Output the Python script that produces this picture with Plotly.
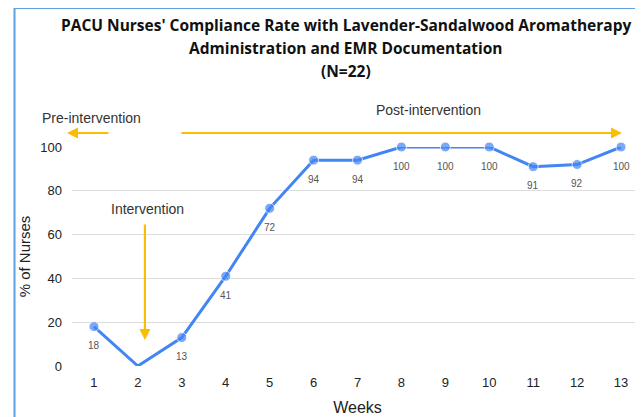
import plotly.graph_objects as go

weeks = [1, 2, 3, 4, 5, 6, 7, 8, 9, 10, 11, 12, 13]
compliance = [18, 0, 13, 41, 72, 94, 94, 100, 100, 100, 91, 92, 100]
y_ticks = [0, 20, 40, 60, 80, 100]

title_lines = ["PACU Nurses' Compliance Rate with Lavender-Sandalwood Aromatherapy",
               "Administration and EMR Documentation", "(N=22)"]

sizes = [10 if v > 0 else 0 for v in compliance]

BLUE = "#4285F4"
YEL = "#FBBC04"
FONT = "Liberation Sans, Arial, sans-serif"
TFONT = "Open Sans, Liberation Sans, sans-serif"

fig = go.Figure()
fig.add_trace(go.Scatter(
    x=weeks, y=compliance, mode="lines+markers",
    line=dict(color=BLUE, width=3),
    marker=dict(color=BLUE, size=sizes),
    cliponaxis=False, hoverinfo="x+y",
))

# data labels below the points
for w, v in zip(weeks, compliance):
    if v > 0:
        fig.add_annotation(x=w, y=v, xref="x", yref="y", text=str(v), showarrow=False,
                           yshift=-19, font=dict(size=10, color="#555555", family=FONT))

fig.update_layout(
    width=635, height=409,
    margin=dict(l=64, r=0, t=139, b=51),
    paper_bgcolor="white", plot_bgcolor="white",
    showlegend=False,
    font=dict(family=FONT, color="#222222"),
    xaxis=dict(range=[0.5, 13.5], tickvals=weeks, showgrid=False, zeroline=False,
               showline=False, ticks="", ticklabelstandoff=7,
               tickfont=dict(size=13, color="#222222"),
               title=dict(text="Weeks", font=dict(size=16, color="#222222"), standoff=12)),
    yaxis=dict(range=[0, 100], tickvals=y_ticks, showgrid=True, gridcolor="#dddddd",
               gridwidth=1, zeroline=False, showline=False, ticks="", ticklabelstandoff=9,
               tickfont=dict(size=13, color="#222222"),
               title=dict(text="% of Nurses", font=dict(size=15, color="#222222"), standoff=6)),
)

def px(xr):
    return (xr - 72) / 571

def py(yr):
    return (366 - yr) / 219

# title, one annotation per line
for line, yc in zip(title_lines, [25, 48, 71]):
    fig.add_annotation(xref="paper", yref="paper", x=px(346), y=py(yc),
                       xanchor="center", yanchor="middle", showarrow=False,
                       text="<b>" + line + "</b>",
                       font=dict(size=15.5, color="#111111", family=TFONT))

# pre / post intervention arrows (paper-referenced, pixel tails)
fig.add_annotation(xref="paper", yref="paper", x=px(67), y=py(133), ax=43, ay=0,
                   axref="pixel", ayref="pixel", showarrow=True, arrowhead=2, arrowsize=1,
                   arrowwidth=2.2, arrowcolor=YEL, text="", xanchor="center")
fig.add_annotation(xref="paper", yref="paper", x=px(622), y=py(133), ax=-442, ay=0,
                   axref="pixel", ayref="pixel", showarrow=True, arrowhead=2, arrowsize=1,
                   arrowwidth=2.2, arrowcolor=YEL, text="", xanchor="center")
# intervention arrow
fig.add_annotation(x=2.16, y=11.9, ax=2.16, ay=65.3, xref="x", yref="y", axref="x", ayref="y",
                   showarrow=True, arrowhead=2, arrowsize=1, arrowwidth=2.2,
                   arrowcolor=YEL, text="")

for txt, xc, yc in [("Pre-intervention", 91, 118), ("Post-intervention", 428, 110),
                    ("Intervention", 147, 209)]:
    fig.add_annotation(x=px(xc), y=py(yc), xref="paper", yref="paper", showarrow=False,
                       xanchor="center", yanchor="middle", text=txt,
                       font=dict(size=14, color="#333333", family=FONT))

# frame border (left and top)
bx = px(14.5)
by = py(8)
fig.add_shape(type="line", xref="paper", yref="paper", x0=bx, x1=bx, y0=by, y1=py(430),
              line=dict(color="#5BA3E0", width=2))
fig.add_shape(type="line", xref="paper", yref="paper", x0=bx, x1=px(660), y0=by, y1=by,
              line=dict(color="#5BA3E0", width=2))

fig.write_html("out.html")
